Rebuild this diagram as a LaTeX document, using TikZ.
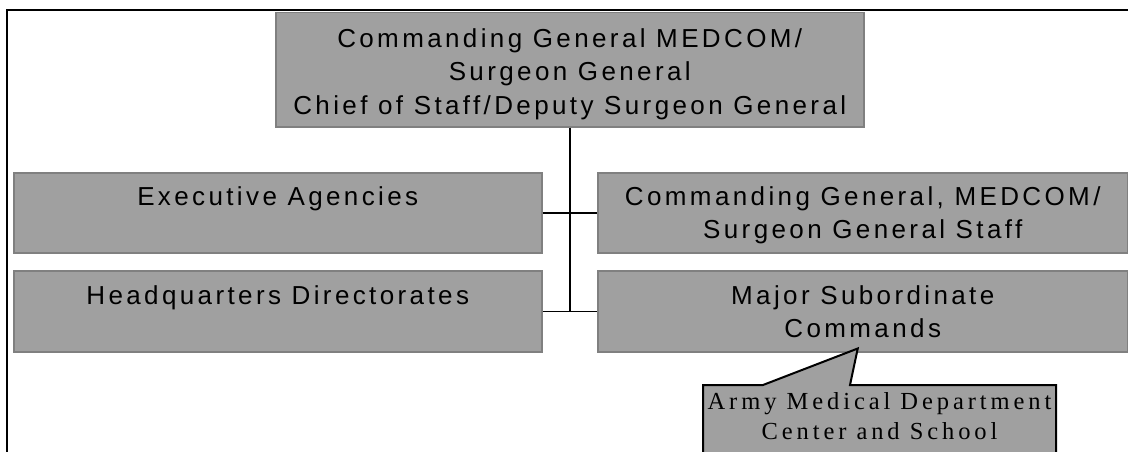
\documentclass[tikz,border=0pt]{standalone}
\usepackage{fontspec}
\setmainfont{Liberation Serif}
\setsansfont{Liberation Sans}[LetterSpace=13]
\newfontfamily\calloutfont{Liberation Serif}[LetterSpace=16]
\definecolor{boxgray}{RGB}{160,160,160}
\definecolor{edgegray}{RGB}{128,128,128}
\tikzset{
        % grey boxes of the chart, placed by their top left corner
        orgbox/.style={draw=edgegray, line width=1.5, fill=boxgray, anchor=north west, inner sep=0},
        orgtext/.style={font=\sffamily\fontsize{26}{33.5}\selectfont, align=center, anchor=north, inner sep=0},
        conn/.style={line width=1.5, color=black},
}

\begin{document}
\begin{tikzpicture}[x=1pt,y=1pt,yscale=-1]
\useasboundingbox (0,0) rectangle (1128,452);

%Frame
\draw [line width=2.5]    (7,452) -- (7,10) -- (1128,10) ;

%Boxes
\node [orgbox, minimum width=588, minimum height=114] (cg) at (275,12) {};
\node [orgbox, minimum width=528, minimum height=80] (ea) at (13,172) {};
\node [orgbox, minimum width=530, minimum height=80] (cgs) at (597,172) {};
\node [orgbox, minimum width=528, minimum height=81] (hqd) at (13,270) {};
\node [orgbox, minimum width=530, minimum height=81] (msc) at (597,270) {};

%Connectors
\draw [conn]    (cg.south) -- (cg.south |- msc.west) ;
\draw [conn]    (ea.east) -- (cgs.west) ;
\draw [conn]    (hqd.east) -- (msc.west) ;

%Callout
\begin{scope}
\clip (0,0) rectangle (1128,452);
\draw [line width=2, fill=boxgray]    (703,385) -- (763,385) -- ([shift={(-5,-4)}]msc.south) -- (850,385) -- (1056,385) -- (1056,470) -- (703,470) -- cycle ;
\end{scope}

% Text Node
\node [orgtext] (cgT) at ([yshift=16]cg.north) {Commanding General MEDCOM/\\Surgeon General\\Chief of Staff/Deputy Surgeon General};
% Text Node
\node [orgtext] (eaT) at ([yshift=14]ea.north) {Executive Agencies};
% Text Node
\node [orgtext] (cgsT) at ([yshift=14]cgs.north) {Commanding General, MEDCOM/\\Surgeon General Staff};
% Text Node
\node [orgtext] (hqdT) at ([yshift=15]hqd.north) {Headquarters Directorates};
% Text Node
\node [orgtext] (mscT) at ([yshift=15]msc.north) {Major Subordinate\\Commands};
% Text Node
\node [align=center, anchor=north, inner sep=0, font=\calloutfont\fontsize{24.5}{30}\selectfont] (amedd) at (879.5,392) {Army Medical Department\\Center and School};

\end{tikzpicture}
\end{document}
